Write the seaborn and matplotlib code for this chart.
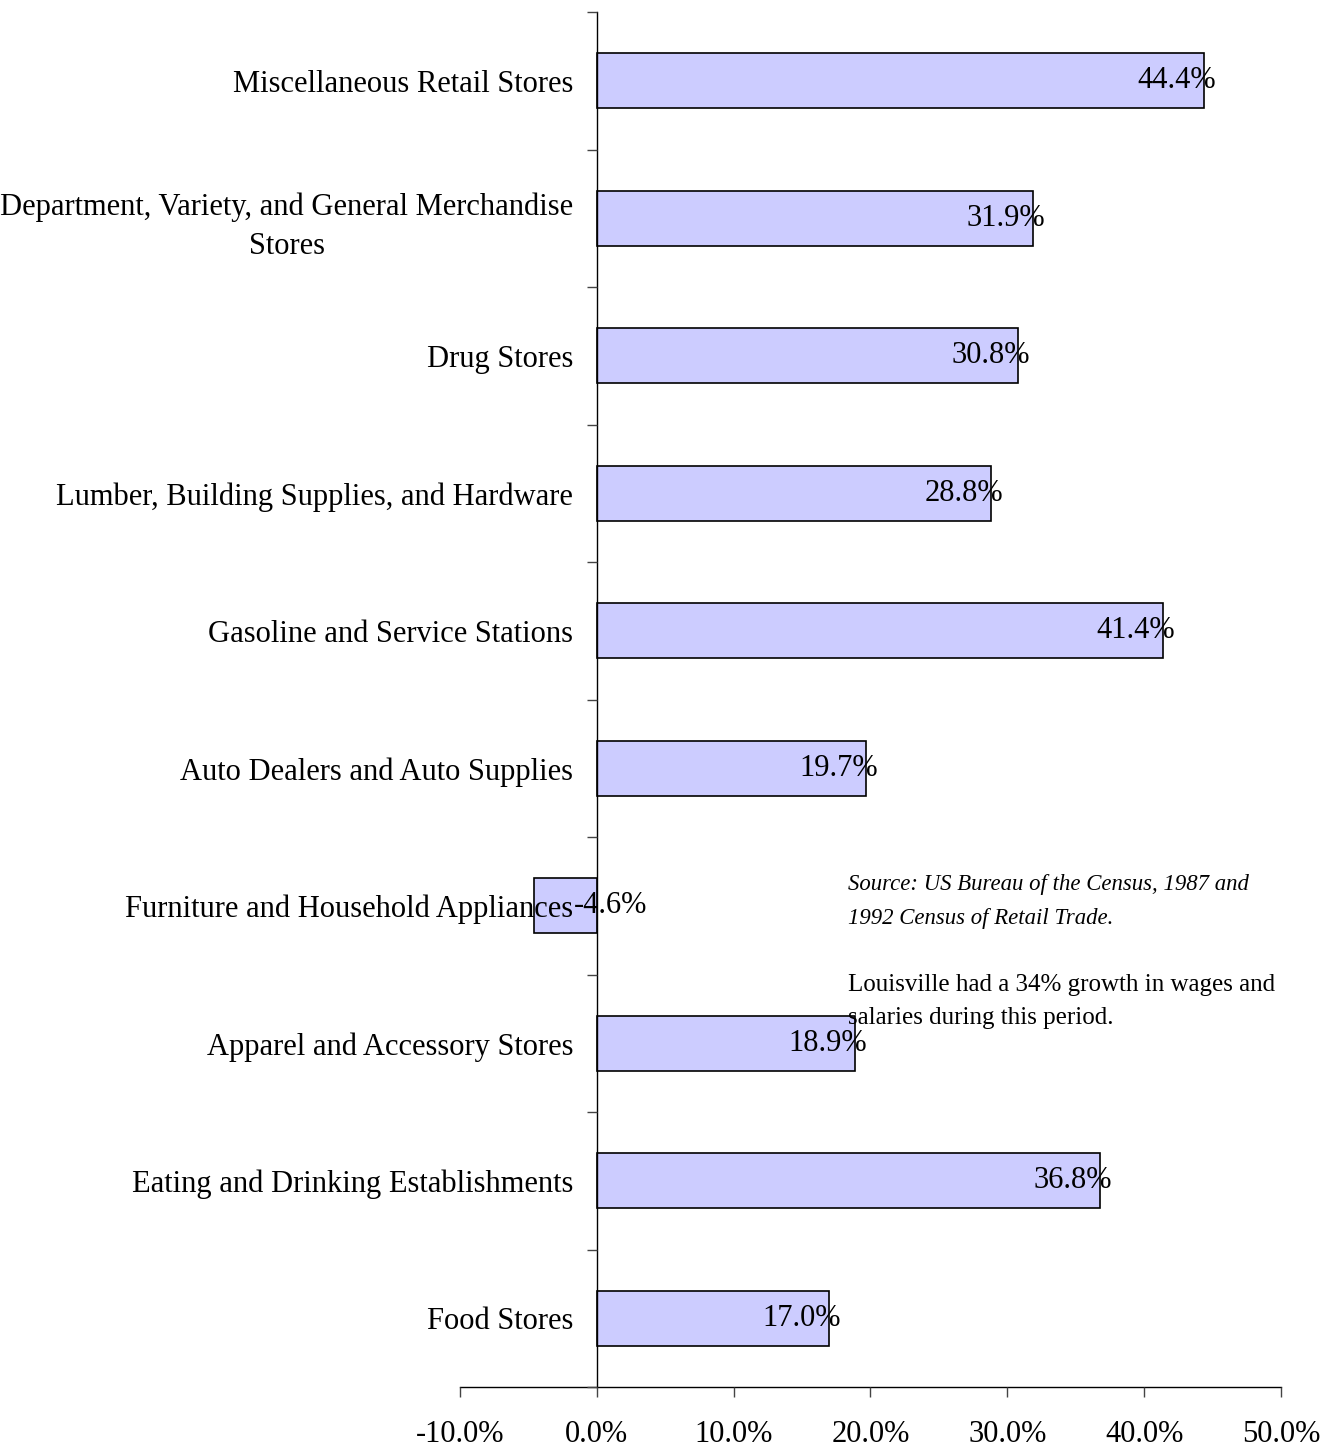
import seaborn as sns
import matplotlib.pyplot as plt
import pandas as pd

categories = [
    'Miscellaneous Retail Stores',
    'Department, Variety, and General Merchandise\nStores',
    'Drug Stores',
    'Lumber, Building Supplies, and Hardware',
    'Gasoline and Service Stations',
    'Auto Dealers and Auto Supplies',
    'Furniture and Household Appliances',
    'Apparel and Accessory Stores',
    'Eating and Drinking Establishments',
    'Food Stores',
]
growth = [44.4, 31.9, 30.8, 28.8, 41.4, 19.7, -4.6, 18.9, 36.8, 17.0]
xticks = [-10, 0, 10, 20, 30, 40, 50]

source_note = 'Source: US Bureau of the Census, 1987 and\n1992 Census of Retail Trade.'
wage_note = 'Louisville had a 34% growth in wages and\nsalaries during this period.'

sns.set_style('white')
plt.rcParams['font.family'] = ['Liberation Serif', 'DejaVu Serif']
plt.rcParams['text.color'] = 'black'
plt.rcParams['xtick.color'] = 'black'
plt.rcParams['ytick.color'] = 'black'

df = pd.DataFrame({'category': categories, 'growth': growth})

fig = plt.figure(figsize=(13.27, 14.51), dpi=100)
ax = fig.add_axes([0.3466, 0.0441, 0.6187, 0.9476])

sns.barplot(data=df, x='growth', y='category', orient='h', width=0.4,
            color='#ccccff', saturation=1, edgecolor='black', linewidth=1.2, ax=ax)
ax.set_axisbelow(False)

ax.set_xlim(-10, 50)
ax.set_ylim(len(categories) - 0.5, -0.5)
ax.set_xlabel('')
ax.set_ylabel('')

# value labels
for i, v in enumerate(growth):
    xpos = v - 2.0 if v > 0 else 1.0
    ax.text(xpos, i, f'{v:.1f}%', ha='center', va='center', fontsize=22, zorder=5)

# axes look
for s in ['top', 'right']:
    ax.spines[s].set_visible(False)
ax.spines['left'].set_position(('data', 0))
ax.spines['left'].set_color('black')
ax.spines['bottom'].set_color('black')
ax.spines['left'].set_linewidth(1)
ax.spines['bottom'].set_linewidth(1)

ax.set_xticks(xticks)
ax.set_xticklabels([f'{t:.1f}%' for t in xticks])
ax.tick_params(axis='x', direction='out', length=7, width=1, color='#444444',
               labelsize=22, pad=17, bottom=True)

ax.set_yticks(range(len(categories)))
ax.set_yticklabels(categories, multialignment='center', linespacing=1.45)
ax.tick_params(axis='y', which='major', length=0, labelsize=22, pad=17)
ax.set_yticks([i - 0.5 for i in range(len(categories) + 1)], minor=True)
ax.tick_params(axis='y', which='minor', direction='out', length=7, width=1, color='#444444', left=True)

ax.text(0.4726, 0.3731, source_note, transform=ax.transAxes, fontsize=16.4,
        style='italic', va='top', ha='left', linespacing=1.83)
ax.text(0.4726, 0.3006, wage_note, transform=ax.transAxes, fontsize=18,
        va='top', ha='left', linespacing=1.68)

fig.savefig('out.png', dpi=100)
